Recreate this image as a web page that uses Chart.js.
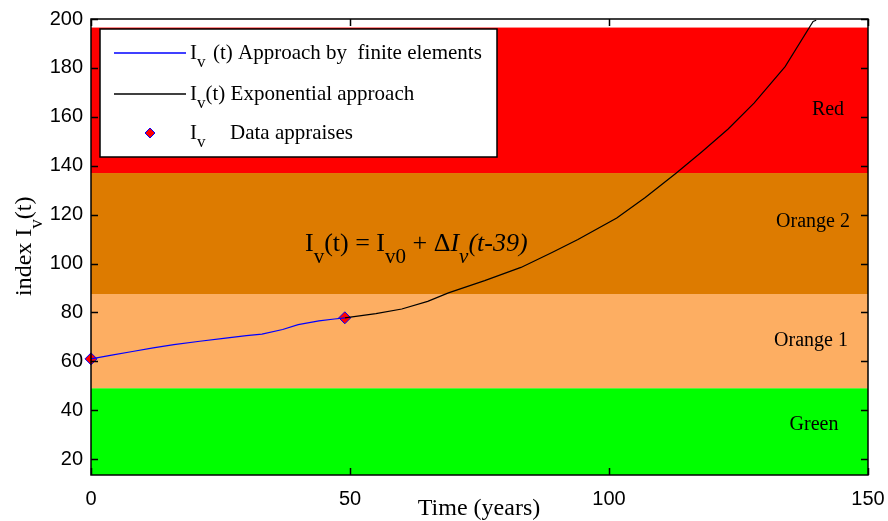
<!DOCTYPE html>
<html>
<head>
<meta charset="utf-8">
<script src="https://cdn.jsdelivr.net/npm/chart.js@4.4.1/dist/chart.umd.min.js"></script>
<style>
  html, body { margin: 0; padding: 0; background: #fff; }
  #wrap { width: 888px; height: 521px; position: relative; }
</style>
</head>
<body>
<div id="wrap"><canvas id="chart"></canvas></div>
<script>
// finite elements approach (blue)
const tFem = [0, 4, 8, 12, 16, 21, 26, 30, 33, 37, 40, 44, 47, 49];
const ivFem = [61, 62.5, 64, 65.5, 66.8, 68.2, 69.5, 70.5, 71.1, 73, 75, 76.5, 77.3, 77.8];

// exponential approach (black)
const tExp = [49, 55, 60, 65, 69, 76, 83, 89, 94, 101.5, 107, 113, 118, 123, 128, 134, 139.4, 140];
const ivExp = [77.8, 79.5, 81.4, 84.5, 88, 93, 98.4, 104.5, 109.8, 118.6, 127, 137, 145.8, 155, 165.6, 180.5, 199, 199.5];

// appraised data
const tData = [0, 49];
const ivData = [61, 77.8];

// alert bands
const bandNames = ['Green', 'Orange 1', 'Orange 2', 'Red'];
const bandLow = [13.5, 49, 87.5, 137];
const bandHigh = [49, 87.5, 137, 196.5];
const bandColors = ['#00ff00', '#fdae62', '#dd7b00', '#ff0000'];

const xTicks = [0, 50, 100, 150];
const yTicks = [20, 40, 60, 80, 100, 120, 140, 160, 180, 200];

const BLUE = '#0000ff';
const BLACK = '#000000';

const toPts = (xs, ys) => xs.map((x, i) => ({ x: x, y: ys[i] }));

const SERIF = '"Liberation Serif", "Times New Roman", serif';
const SANS = '"Liberation Sans", Arial, sans-serif';

// draws text with subscript parts: [[text, sub?, italic?], ...]
function drawRich(ctx, parts, x, y, size) {
    let cx = x;
    parts.forEach(p => {
        const sub = p[1];
        const fs = sub ? Math.round(size * 0.8) : size;
        ctx.font = (p[2] ? 'italic ' : '') + fs + 'px ' + SERIF;
        ctx.fillText(p[0], cx, sub ? y + size * 0.45 : y);
        cx += ctx.measureText(p[0]).width;
    });
    return cx;
}

const bandsPlugin = {
    id: 'bands',
    beforeDatasetsDraw(chart) {
        const ctx = chart.ctx, a = chart.chartArea;
        const ys = chart.scales.y;
        ctx.save();
        bandNames.forEach((n, i) => {
            const top = ys.getPixelForValue(bandHigh[i]);
            const bot = ys.getPixelForValue(bandLow[i]);
            ctx.fillStyle = bandColors[i];
            ctx.fillRect(a.left, top, a.right - a.left, bot - top);
        });
        // band labels
        const labelAt = [34, 68.5, 117, 163];
        const labelX = [814, 811, 813, 828];
        ctx.fillStyle = '#000';
        ctx.font = '20px ' + SERIF;
        ctx.textAlign = 'center';
        ctx.textBaseline = 'middle';
        bandNames.forEach((n, i) => {
            ctx.fillText(n, labelX[i], ys.getPixelForValue(labelAt[i]));
        });
        // formula
        ctx.textAlign = 'left';
        ctx.textBaseline = 'alphabetic';
        drawRich(ctx, [['I'], ['v', 1], ['(t) = I'], ['v0', 1], [' + \u0394'], ['I', 0, 1], ['v', 1, 1], ['(t-39)', 0, 1]],
            305, 251, 26);
        ctx.restore();
    },
    afterDraw(chart) {
        const ctx = chart.ctx, a = chart.chartArea;
        const xs = chart.scales.x, ys = chart.scales.y;
        ctx.save();
        // frame
        ctx.strokeStyle = '#000';
        ctx.lineWidth = 1.5;
        ctx.strokeRect(a.left, a.top, a.right - a.left, a.bottom - a.top);
        // inward ticks
        ctx.beginPath();
        yTicks.forEach(v => {
            const p = Math.round(ys.getPixelForValue(v)) + 0.5;
            ctx.moveTo(a.left, p); ctx.lineTo(a.left + 7, p);
            ctx.moveTo(a.right, p); ctx.lineTo(a.right - 7, p);
        });
        xTicks.forEach(v => {
            const p = Math.round(xs.getPixelForValue(v)) + 0.5;
            ctx.moveTo(p, a.bottom); ctx.lineTo(p, a.bottom - 7);
            ctx.moveTo(p, a.top); ctx.lineTo(p, a.top + 7);
        });
        ctx.stroke();

        // axis titles
        ctx.fillStyle = '#000';
        ctx.font = '24px ' + SERIF;
        ctx.textAlign = 'center';
        ctx.fillText('Time (years)', 479, 515);
        ctx.save();
        ctx.translate(31, 296);
        ctx.rotate(-Math.PI / 2);
        ctx.textAlign = 'left';
        drawRich(ctx, [['index I'], ['v', 1], ['(t)']], 0, 0, 24);
        ctx.restore();

        // legend
        const lx = 100, ly = 29, lw = 397, lh = 128;
        ctx.fillStyle = '#fff';
        ctx.fillRect(lx, ly, lw, lh);
        ctx.strokeStyle = '#000';
        ctx.lineWidth = 1.5;
        ctx.strokeRect(lx, ly, lw, lh);
        const rows = [53, 94, 133];
        ctx.lineWidth = 1.5;
        [BLUE, BLACK].forEach((c, i) => {
            ctx.strokeStyle = c;
            ctx.beginPath();
            ctx.moveTo(114, rows[i]); ctx.lineTo(186, rows[i]);
            ctx.stroke();
        });
        // diamond marker
        ctx.lineWidth = 1;
        ctx.beginPath();
        ctx.moveTo(150, rows[2] - 5); ctx.lineTo(155, rows[2]);
        ctx.lineTo(150, rows[2] + 5); ctx.lineTo(145, rows[2]);
        ctx.closePath();
        ctx.fillStyle = '#ff0000';
        ctx.fill();
        ctx.strokeStyle = BLUE;
        ctx.stroke();

        ctx.fillStyle = '#000';
        ctx.textAlign = 'left';
        ctx.textBaseline = 'middle';
        drawRich(ctx, [['I'], ['v', 1]], 190, rows[0], 21);
        drawRich(ctx, [['(t) Approach by  finite elements']], 213, rows[0], 21);
        drawRich(ctx, [['I'], ['v', 1], ['(t) Exponential approach']], 190, rows[1], 21);
        drawRich(ctx, [['I'], ['v', 1]], 190, rows[2], 21);
        drawRich(ctx, [['Data appraises']], 230, rows[2], 21);
        ctx.restore();
    }
};

new Chart(document.getElementById('chart').getContext('2d'), {
    type: 'scatter',
    data: {
        datasets: [
            {
                label: 'Iv (t) Approach by finite elements',
                data: toPts(tFem, ivFem),
                showLine: true,
                borderColor: BLUE,
                borderWidth: 1.2,
                pointRadius: 0,
                tension: 0
            },
            {
                label: 'Iv(t) Exponential approach',
                data: toPts(tExp, ivExp),
                showLine: true,
                borderColor: BLACK,
                borderWidth: 1.2,
                pointRadius: 0,
                tension: 0
            },
            {
                label: 'Iv Data appraises',
                data: toPts(tData, ivData),
                pointStyle: 'rectRot',
                pointRadius: 6,
                backgroundColor: '#ff0000',
                borderColor: BLUE,
                borderWidth: 1,
                clip: false
            }
        ]
    },
    options: {
        responsive: true,
        maintainAspectRatio: false,
        animation: false,
        layout: { padding: { left: 0, right: 20, top: 19, bottom: 0 } },
        plugins: {
            legend: { display: false },
            tooltip: { enabled: false }
        },
        scales: {
            x: {
                type: 'linear',
                min: 0,
                max: 150,
                afterFit(scale) {
                    scale.height = 46;
                    scale.paddingLeft = 0;
                    scale.paddingRight = 0;
                },
                afterBuildTicks(scale) { scale.ticks = xTicks.map(v => ({ value: v })); },
                grid: { display: false, drawTicks: false, tickLength: 0 },
                border: { display: false },
                ticks: { color: '#000', font: { family: SANS, size: 20 }, padding: 12, maxRotation: 0 }
            },
            y: {
                type: 'linear',
                min: 13.5,
                max: 200,
                afterFit(scale) {
                    scale.width = 91;
                    scale.paddingTop = 0;
                    scale.paddingBottom = 0;
                },
                afterBuildTicks(scale) { scale.ticks = yTicks.map(v => ({ value: v })); },
                grid: { display: false, drawTicks: false, tickLength: 0 },
                border: { display: false },
                ticks: { color: '#000', font: { family: SANS, size: 20 }, padding: 8 }
            }
        }
    },
    plugins: [bandsPlugin]
});
</script>
</body>
</html>
